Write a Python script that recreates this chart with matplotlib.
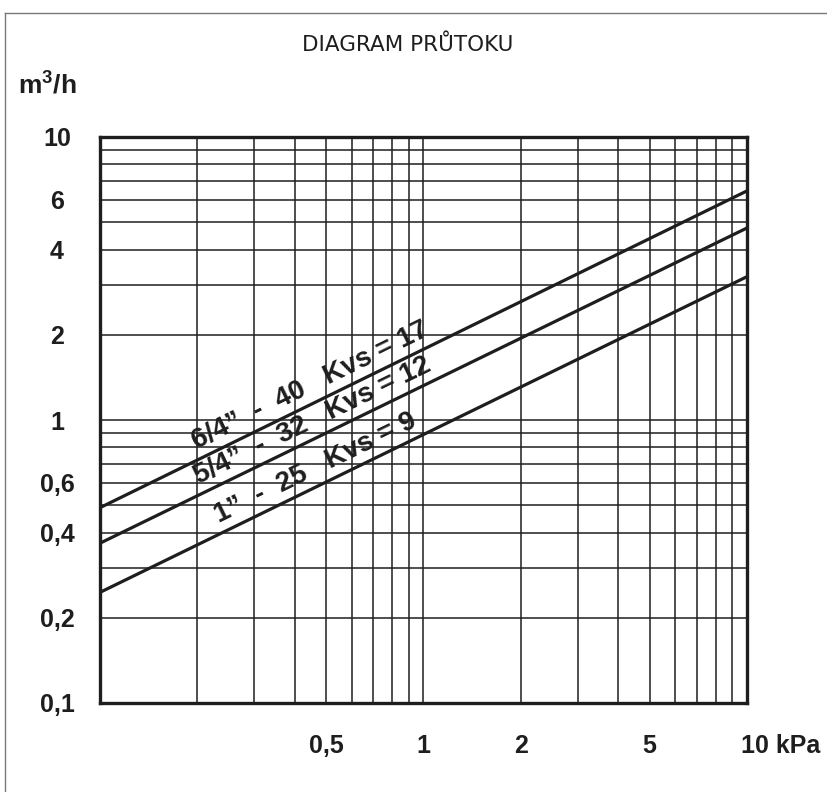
import numpy as np
import matplotlib
matplotlib.use("Agg")
import matplotlib.pyplot as plt
from matplotlib.ticker import NullFormatter, FixedLocator
from matplotlib.lines import Line2D

# ---- data ----
dp_kpa = [0.1, 10.0]                 # pressure drop, kPa (line endpoints)
flow_kvs17 = [0.49, 6.45]            # m3/h
flow_kvs12 = [0.367, 4.77]
flow_kvs9 = [0.246, 3.21]
series_labels = ["6/4”  -  40   Kvs = 17",
                 "5/4”  -  32   Kvs = 12",
                 "1”  -  25   Kvs = 9"]
label_dp = [0.47, 0.48, 0.49]

xtick_vals = [0.5, 1, 2, 5]
xtick_labels = ["0,5", "1", "2", "5"]
ytick_vals = [0.1, 0.2, 0.4, 0.6, 1, 2, 4, 6, 10]
ytick_labels = ["0,1", "0,2", "0,4", "0,6", "1", "2", "4", "6", "10"]

plt.rcParams["mathtext.fontset"] = "custom"
plt.rcParams["mathtext.rm"] = "Liberation Sans:bold"
plt.rcParams["mathtext.bf"] = "Liberation Sans:bold"

W, H = 828, 792
fig = plt.figure(figsize=(W / 100, H / 100), dpi=100)
fig.patch.set_facecolor("white")
ink = "#1e1e1e"

# outer frame (top and left edges)
fig.add_artist(Line2D([5 / W, 1.0], [1 - 13 / H, 1 - 13 / H], color="#7a7a7a", lw=1.0,
                      transform=fig.transFigure))
fig.add_artist(Line2D([5 / W, 5 / W], [1 - 13 / H, 0.0], color="#7a7a7a", lw=1.0,
                      transform=fig.transFigure))

left, right, top, bottom = 100, 747, 137, 703
ax = fig.add_axes([left / W, 1 - bottom / H, (right - left) / W, (bottom - top) / H])
ax.set_xscale("log")
ax.set_yscale("log")
ax.set_xlim(0.1, 10)
ax.set_ylim(0.1, 10)

grid_vals = [m * 10.0 ** e for e in (-1, 0) for m in range(1, 10)] + [10.0]
ax.xaxis.set_major_locator(FixedLocator(xtick_vals))
ax.yaxis.set_major_locator(FixedLocator(ytick_vals))
ax.xaxis.set_minor_locator(FixedLocator(grid_vals))
ax.yaxis.set_minor_locator(FixedLocator(grid_vals))
ax.xaxis.set_minor_formatter(NullFormatter())
ax.yaxis.set_minor_formatter(NullFormatter())
ax.set_xticklabels(xtick_labels)
ax.set_yticklabels(ytick_labels)
ax.grid(which="both", color=ink, lw=1.1)
ax.tick_params(which="both", length=0)
ax.tick_params(axis="x", pad=22)
ax.tick_params(axis="y", pad=31)
for lab in ax.get_yticklabels():
    lab.set_horizontalalignment("center")
for lab in ax.get_xticklabels() + ax.get_yticklabels():
    lab.set_fontfamily("Liberation Sans")
    lab.set_fontweight("bold")
    lab.set_fontsize(18)
    lab.set_color(ink)
for s in ax.spines.values():
    s.set_linewidth(2.4)
    s.set_color(ink)

ax.annotate("10 kPa", xy=(10, 0), xycoords=("data", "axes fraction"),
            xytext=(-4, -22), textcoords="offset points", ha="left", va="top",
            fontfamily="Liberation Sans", fontweight="bold", fontsize=18, color=ink)

series = [flow_kvs17, flow_kvs12, flow_kvs9]
for flows, text, ldp in zip(series, series_labels, label_dp):
    ax.plot(dp_kpa, flows, color=ink, lw=2.3, solid_capstyle="butt")
    lx = np.log10(dp_kpa)
    ly = np.log10(flows)
    yq = 10 ** np.interp(np.log10(ldp), lx, ly)
    p0 = ax.transData.transform((dp_kpa[0], flows[0]))
    p1 = ax.transData.transform((dp_kpa[1], flows[1]))
    ang = np.degrees(np.arctan2(p1[1] - p0[1], p1[0] - p0[0]))
    th = np.radians(ang)
    d = 3.0
    ax.annotate(text, xy=(ldp, yq), xytext=(-np.sin(th) * d, np.cos(th) * d),
                textcoords="offset points", rotation=ang, rotation_mode="anchor",
                ha="center", va="bottom", fontfamily="Liberation Sans",
                fontweight="bold", fontsize=20, color=ink)

fig.text(408 / W, 1 - 45 / H, "DIAGRAM PRŮTOKU", ha="center", va="center",
         fontfamily="DejaVu Sans", fontsize=15.5, color=ink)
fig.text(18 / W, 1 - 84 / H, r"m$^{3}$/h", ha="left", va="center",
         fontfamily="Liberation Sans", fontweight="bold",
         fontsize=19, color=ink)

fig.savefig("out.png", dpi=100)
